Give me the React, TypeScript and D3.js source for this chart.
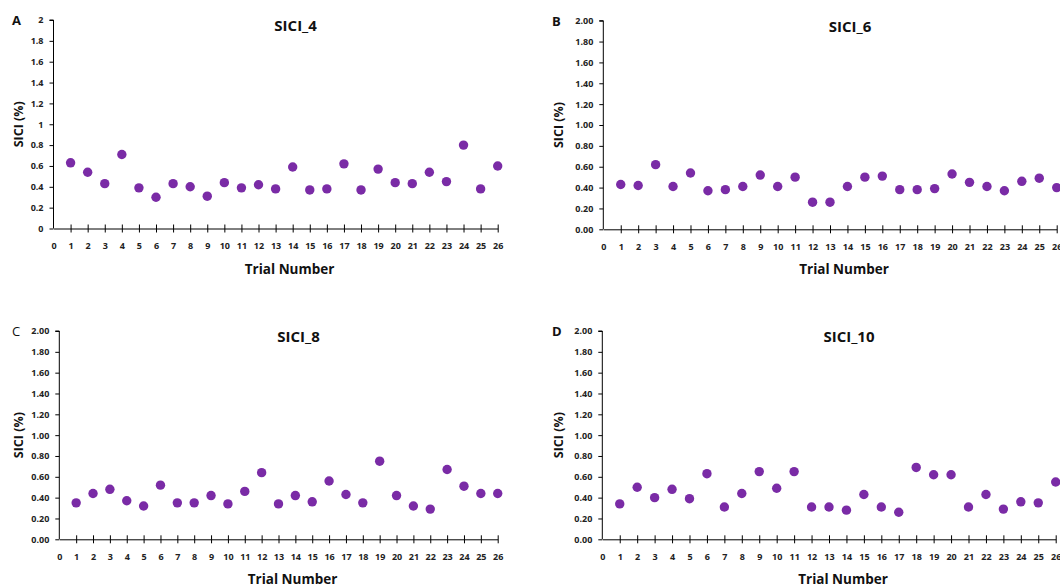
import * as d3 from 'd3';
import { useEffect, useRef } from 'react';

// trial numbers 1..26
const trials = [1, 2, 3, 4, 5, 6, 7, 8, 9, 10, 11, 12, 13, 14, 15, 16, 17, 18, 19, 20, 21, 22, 23, 24, 25, 26];
const xTicks = [0, 1, 2, 3, 4, 5, 6, 7, 8, 9, 10, 11, 12, 13, 14, 15, 16, 17, 18, 19, 20, 21, 22, 23, 24, 25, 26];
const yTicks = [0, 0.2, 0.4, 0.6, 0.8, 1.0, 1.2, 1.4, 1.6, 1.8, 2.0];

const sici4 = [0.63, 0.54, 0.43, 0.71, 0.39, 0.30, 0.43, 0.40, 0.31, 0.44, 0.39, 0.42, 0.38, 0.59, 0.37, 0.38, 0.62, 0.37, 0.57, 0.44, 0.43, 0.54, 0.45, 0.80, 0.38, 0.60];
const sici6 = [0.43, 0.42, 0.62, 0.41, 0.54, 0.37, 0.38, 0.41, 0.52, 0.41, 0.50, 0.26, 0.26, 0.41, 0.50, 0.51, 0.38, 0.38, 0.39, 0.53, 0.45, 0.41, 0.37, 0.46, 0.49, 0.40];
const sici8 = [0.35, 0.44, 0.48, 0.37, 0.32, 0.52, 0.35, 0.35, 0.42, 0.34, 0.46, 0.64, 0.34, 0.42, 0.36, 0.56, 0.43, 0.35, 0.75, 0.42, 0.32, 0.29, 0.67, 0.51, 0.44, 0.44];
const sici10 = [0.34, 0.50, 0.40, 0.48, 0.39, 0.63, 0.31, 0.44, 0.65, 0.49, 0.65, 0.31, 0.31, 0.28, 0.43, 0.31, 0.26, 0.69, 0.62, 0.62, 0.31, 0.43, 0.29, 0.36, 0.35, 0.55];

const panels = [
  { letter: 'A', title: 'SICI_4', values: sici4, fmt: '', bold: true, left: 53.5, right: 497.7, top: 20, bottom: 228.5, ox: 0, oy: 0 },
  { letter: 'B', title: 'SICI_6', values: sici6, fmt: '.2f', bold: true, left: 603.3, right: 1056.7, top: 20.7, bottom: 229.3, ox: 540, oy: 0 },
  { letter: 'C', title: 'SICI_8', values: sici8, fmt: '.2f', bold: false, left: 59.3, right: 497.7, top: 331, bottom: 539.3, ox: 0, oy: 300 },
  { letter: 'D', title: 'SICI_10', values: sici10, fmt: '.2f', bold: true, left: 602.3, right: 1055.7, top: 331, bottom: 539.3, ox: 540, oy: 300 },
];

const FONT = "'Open Sans', 'Liberation Sans', sans-serif";
const PURPLE = '#7A2BA6';

export default function App() {
  const svgRef = useRef<SVGSVGElement>(null);

  useEffect(() => {
    const w = 1060;
    const h = 588;
    const svg = d3.select(svgRef.current);
    svg.selectAll('*').remove();
    svg.attr('width', w).attr('height', h).style('background', 'white');

    panels.forEach((p) => {
      const g = svg.append('g');
      const x = d3.scaleLinear().domain([0, 26]).range([p.left, p.right]);
      const y = d3.scaleLinear().domain([0, 2]).range([p.bottom, p.top]);
      const fmt = p.fmt === '' ? (d: number) => String(+d.toFixed(1)) : d3.format(p.fmt);
      const mid = (p.left + p.right) / 2;

      // y axis
      const yAxis = g.append('g')
        .attr('transform', `translate(${p.left},0)`)
        .call(d3.axisLeft(y).tickValues(yTicks).tickSize(4).tickPadding(6).tickFormat((d) => fmt(d as number)));
      yAxis.select('.domain').attr('stroke', '#000').attr('d', `M-4,${p.top}H0V${p.bottom}`);
      yAxis.selectAll('text')
        .style('font', `bold 9px ${FONT}`)
        .attr('fill', '#222');

      // x axis, ticks cross the line
      const xAxis = g.append('g')
        .attr('transform', `translate(0,${p.bottom})`)
        .call(d3.axisBottom(x).tickValues(xTicks).tickSizeInner(4).tickSizeOuter(0).tickPadding(10).tickFormat((d) => String(d)));
      xAxis.selectAll('.tick line').attr('y1', -4).attr('y2', 4);
      xAxis.selectAll('.tick').filter((d) => d === 0).select('line').remove();
      xAxis.selectAll('text')
        .style('font', `bold 9px ${FONT}`)
        .attr('fill', '#222');

      // points
      g.selectAll('circle')
        .data(p.values)
        .enter().append('circle')
        .attr('cx', (d, i) => x(trials[i]))
        .attr('cy', (d) => y(d))
        .attr('r', 4.7)
        .attr('fill', PURPLE);

      // titles
      g.append('text')
        .attr('x', mid + 20)
        .attr('y', p.top + 11)
        .attr('text-anchor', 'middle')
        .style('font', `bold 15px ${FONT}`)
        .attr('fill', '#111')
        .text(p.title);

      g.append('text')
        .attr('x', p.ox + 12)
        .attr('y', p.top + 5)
        .style('font', `${p.bold ? 'bold' : 'normal'} 13px ${FONT}`)
        .attr('fill', '#111')
        .text(p.letter);

      g.append('text')
        .attr('transform', `translate(${p.ox + 23},${(p.top + p.bottom) / 2}) rotate(-90)`)
        .attr('text-anchor', 'middle')
        .style('font', `bold 12.5px ${FONT}`)
        .attr('fill', '#111')
        .text('SICI (%)');

      g.append('text')
        .attr('x', mid + 14)
        .attr('y', p.bottom + 45)
        .attr('text-anchor', 'middle')
        .style('font', `bold 13.5px ${FONT}`)
        .attr('fill', '#111')
        .text('Trial Number');
    });
  });

  return (
    <div style={{ position: 'absolute', left: 0, top: 0 }}>
      <svg ref={svgRef}></svg>
    </div>
  );
}
